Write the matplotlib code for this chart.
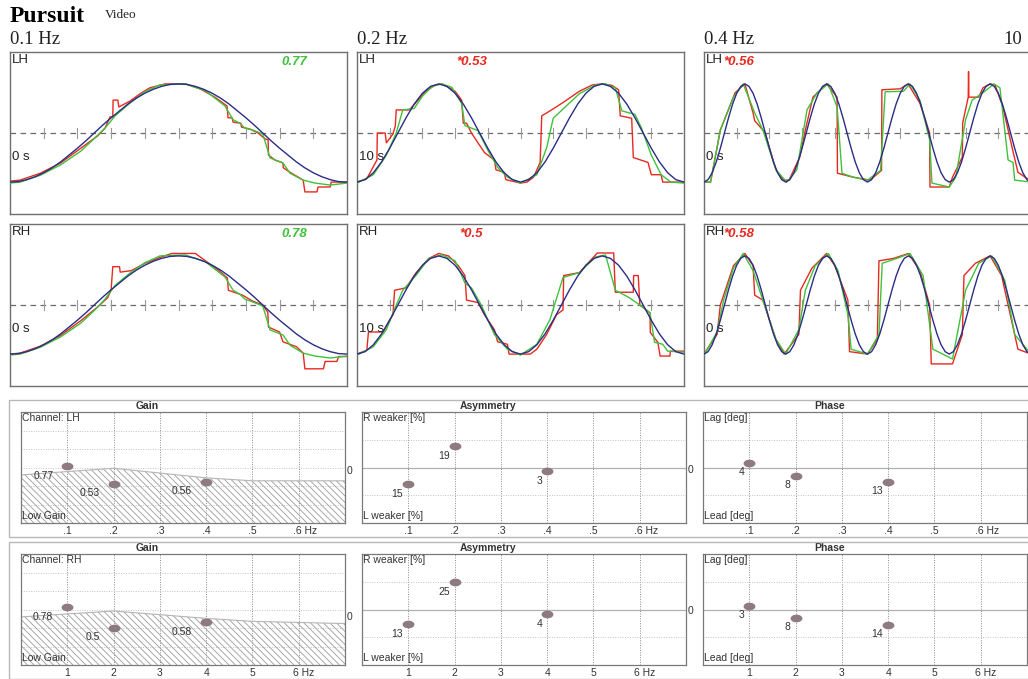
import numpy as np
import matplotlib
matplotlib.use('Agg')
import matplotlib.pyplot as plt
from matplotlib.path import Path
from matplotlib.patches import Rectangle, Polygon
from matplotlib.collections import LineCollection
from matplotlib.transforms import Affine2D

plt.rcParams['font.family'] = ['Liberation Sans', 'DejaVu Sans']

W, H = 1028, 679

# ---------------- data ----------------
freq_titles = ['0.1 Hz', '0.2 Hz', '0.4 Hz']
start_labels = ['0 s', '10 s', '0 s']
channels = ['LH', 'RH']
gain_text = [['0.77', '*0.53', '*0.56'], ['0.78', '*0.5', '*0.58']]
gain_ok = [[True, False, False], [True, False, False]]

# target position, read every 0.25 s (0.1 Hz, 0.2 Hz) and 0.125 s (0.4 Hz)
target_01 = [-1.0, -0.99, -0.95, -0.89, -0.81, -0.71, -0.59, -0.45, -0.31, -0.16, 0.0,
             0.16, 0.31, 0.45, 0.59, 0.71, 0.81, 0.89, 0.95, 0.99, 1.0,
             0.99, 0.95, 0.89, 0.81, 0.71, 0.59, 0.45, 0.31, 0.16, 0.0,
             -0.16, -0.31, -0.45, -0.59, -0.71, -0.81, -0.89, -0.95, -0.99, -1.0]
target_02 = [-1.0, -0.95, -0.81, -0.59, -0.31, 0.0, 0.31, 0.59, 0.81, 0.95, 1.0,
             0.95, 0.81, 0.59, 0.31, 0.0, -0.31, -0.59, -0.81, -0.95, -1.0,
             -0.95, -0.81, -0.59, -0.31, 0.0, 0.31, 0.59, 0.81, 0.95, 1.0,
             0.95, 0.81, 0.59, 0.31, 0.0, -0.31, -0.59, -0.81, -0.95, -1.0]
target_04 = [-1.0, -0.95, -0.81, -0.59, -0.31, 0.0, 0.31, 0.59, 0.81, 0.95, 1.0,
             0.95, 0.81, 0.59, 0.31, 0.0, -0.31, -0.59, -0.81, -0.95, -1.0,
             -0.95, -0.81, -0.59, -0.31, 0.0, 0.31, 0.59, 0.81, 0.95, 1.0,
             0.95, 0.81, 0.59, 0.31, 0.0, -0.31, -0.59, -0.81, -0.95, -1.0,
             -0.95, -0.81, -0.59, -0.31, 0.0, 0.31, 0.59, 0.81, 0.95, 1.0,
             0.95, 0.81, 0.59, 0.31, 0.0, -0.31, -0.59, -0.81, -0.95, -1.0,
             -0.95, -0.81, -0.59, -0.31, 0.0, 0.31, 0.59, 0.81, 0.95, 1.0,
             0.95, 0.81, 0.59, 0.31, 0.0, -0.31, -0.59, -0.81, -0.95, -1.0]
target_step = [0.25, 0.25, 0.125]

# eye traces (time s, position) -- red and green
red_lh_01 = [(0, -0.98), (0.3, -0.96), (0.9, -0.82), (1.5, -0.61), (2.1, -0.31), (2.6, -0.06),
             (2.82, 0.10), (2.97, 0.33), (3.05, 0.33), (3.06, 0.67), (3.2, 0.67), (3.23, 0.53),
             (3.56, 0.65), (3.86, 0.8), (4.15, 0.92), (4.6, 1.0), (5.2, 1.0), (5.64, 0.9),
             (6.08, 0.73), (6.44, 0.55), (6.47, 0.31), (6.59, 0.31), (6.62, 0.22), (6.85, 0.2),
             (6.87, 0.12), (7.12, 0.08), (7.36, 0.0), (7.57, -0.12), (7.66, -0.14), (7.67, -0.45),
             (7.86, -0.55), (8.1, -0.61), (8.11, -0.71), (8.31, -0.8), (8.7, -0.96),
             (8.75, -1.2), (9.11, -1.2), (9.14, -1.1), (9.5, -1.1), (9.53, -1.0), (10, -1.0)]
green_lh_01 = [(0, -1.02), (0.3, -1.0), (0.9, -0.86), (1.5, -0.65), (2.1, -0.37), (2.52, -0.1),
               (2.82, 0.1), (3.12, 0.35), (3.56, 0.61), (4.0, 0.84), (4.45, 0.98), (5.2, 1.0),
               (5.8, 0.86), (6.38, 0.55), (6.62, 0.27), (6.82, 0.2), (6.97, 0.1), (7.21, 0.06),
               (7.5, -0.02), (7.72, -0.51), (8.1, -0.61), (8.31, -0.82), (8.7, -0.96),
               (9.05, -1.02), (9.5, -1.06), (10, -1.02)]
red_lh_02 = [(0, -1.0), (0.3, -0.93), (0.61, -0.55), (0.62, 0.0), (0.86, 0.0), (0.9, -0.2),
             (1.1, -0.02), (1.17, 0.14), (1.2, 0.47), (1.6, 0.47), (1.8, 0.62), (2.1, 0.85),
             (2.4, 0.98), (2.6, 1.0), (2.8, 0.93), (3.0, 0.85), (3.2, 0.67), (3.25, 0.2),
             (3.35, 0.2), (3.5, 0.0), (3.9, -0.4), (4.2, -0.55), (4.25, -0.75), (4.5, -0.8),
             (4.55, -0.95), (5.0, -1.02), (5.2, -1.0), (5.4, -0.9), (5.6, -0.6), (5.65, 0.35),
             (5.9, 0.45), (6.3, 0.62), (6.8, 0.85), (7.2, 0.98), (7.5, 1.0), (7.8, 0.97),
             (8.0, 0.88), (8.05, 0.35), (8.4, 0.3), (8.45, -0.5), (8.9, -0.6), (9.0, -0.85),
             (9.3, -0.85), (9.35, -1.0), (10, -1.0)]
green_lh_02 = [(0, -1.02), (0.5, -0.85), (0.9, -0.45), (1.2, 0.0), (1.4, 0.47), (1.75, 0.5),
               (2.0, 0.75), (2.3, 0.95), (2.6, 1.0), (2.9, 0.93), (3.2, 0.6), (3.3, 0.15),
               (3.7, 0.05), (4.0, -0.35), (4.3, -0.7), (4.6, -0.9), (5.0, -1.02), (5.5, -0.85),
               (5.8, -0.3), (6.0, 0.3), (6.4, 0.55), (6.8, 0.8), (7.3, 0.98), (7.6, 1.0),
               (7.9, 0.92), (8.1, 0.45), (8.5, 0.38), (8.7, 0.1), (9.0, -0.45), (9.3, -0.85),
               (9.6, -1.0), (10, -1.02)]
red_lh_04 = [(0, -1.0), (0.2, -1.0), (0.5, 0.06), (0.95, 0.82), (1.25, 1.0), (1.5, 0.41),
             (1.55, 0.25), (1.8, 0.06), (1.87, 0.0), (2.2, -0.75), (2.43, -0.96), (2.6, -0.96),
             (2.93, -0.49), (3.1, 0.06), (3.33, 0.73), (3.75, 1.0), (4.07, 0.73), (4.08, -0.82),
             (4.56, -0.9), (5.08, -0.96), (5.43, -0.76), (5.44, 0.88), (6.0, 0.9), (6.24, 1.0),
             (6.6, 0.61), (6.9, 0.0), (6.91, -1.1), (7.5, -1.1), (7.6, -0.9), (7.9, -0.49),
             (7.91, 0.2), (8.08, 0.73), (8.09, 1.25), (8.1, 0.73), (8.4, 0.73), (8.53, 0.92),
             (8.75, 1.0), (8.9, 0.98), (9.14, 0.53), (9.42, -0.29), (9.6, -0.8), (10, -0.98)]
green_lh_04 = [(0, -1.0), (0.2, -1.0), (0.5, 0.06), (0.9, 0.73), (1.2, 1.0), (1.55, 0.41),
               (1.8, 0.06), (2.2, -0.75), (2.53, -1.0), (2.84, -0.75), (3.15, 0.47), (3.46, 0.82),
               (3.8, 1.0), (4.07, 0.53), (4.22, -0.82), (4.56, -0.9), (5.0, -0.96), (5.4, -0.76),
               (5.54, 0.84), (6.1, 0.85), (6.3, 1.0), (6.6, 0.67), (6.9, -0.14), (6.97, -1.02),
               (7.5, -1.1), (7.7, -0.9), (8.0, 0.27), (8.2, 0.67), (8.53, 0.82), (8.87, 1.0),
               (9.05, 0.92), (9.3, -0.55), (9.45, -0.6), (9.5, -0.96), (10, -1.0)]
red_rh_01 = [(0, -1.0), (0.3, -0.98), (0.9, -0.84), (1.5, -0.62), (2.1, -0.32), (2.6, -0.04),
             (2.9, 0.15), (3.0, 0.31), (3.05, 0.78), (3.25, 0.78), (3.27, 0.67), (3.6, 0.7),
             (4.0, 0.85), (4.5, 0.98), (4.8, 1.05), (5.5, 1.05), (5.8, 0.9), (6.2, 0.7),
             (6.45, 0.55), (6.48, 0.3), (6.9, 0.2), (7.2, 0.08), (7.5, 0.0), (7.65, -0.15),
             (7.67, -0.45), (8.0, -0.55), (8.1, -0.75), (8.5, -0.85), (8.7, -0.98),
             (8.75, -1.3), (9.3, -1.3), (9.35, -1.15), (9.7, -1.15), (9.75, -1.05), (10, -1.05)]
green_rh_01 = [(0, -1.02), (0.3, -1.0), (0.9, -0.86), (1.5, -0.65), (2.1, -0.37), (2.52, -0.1),
               (2.82, 0.12), (3.12, 0.4), (3.56, 0.65), (4.0, 0.86), (4.45, 1.0), (5.2, 1.02),
               (5.8, 0.88), (6.38, 0.57), (6.62, 0.3), (6.82, 0.22), (6.97, 0.12), (7.21, 0.06),
               (7.5, -0.02), (7.72, -0.51), (8.1, -0.61), (8.31, -0.82), (8.7, -0.98),
               (9.05, -1.04), (9.5, -1.08), (10, -1.04)]
red_rh_02 = [(0, -1.0), (0.3, -0.92), (0.35, -0.55), (0.8, -0.55), (1.0, -0.3), (1.1, -0.2),
             (1.15, 0.3), (1.5, 0.35), (1.8, 0.65), (2.2, 0.95), (2.5, 1.05), (2.8, 1.0),
             (3.1, 0.8), (3.3, 0.6), (3.35, 0.1), (3.7, 0.05), (3.9, -0.2), (4.2, -0.5),
             (4.3, -0.75), (4.6, -0.8), (4.65, -1.0), (5.3, -1.0), (5.5, -0.9), (5.8, -0.6),
             (6.1, -0.2), (6.3, -0.1), (6.32, 0.6), (6.8, 0.66), (7.35, 1.06), (7.85, 1.06),
             (7.9, 0.26), (8.45, 0.26), (8.46, 0.6), (8.6, 0.6), (8.65, 0.0), (8.96, -0.16),
             (8.97, -0.56), (9.2, -0.76), (9.27, -1.04), (9.57, -1.04), (9.58, -0.94), (10, -0.94)]
green_rh_02 = [(0, -1.02), (0.5, -0.85), (0.9, -0.5), (1.2, 0.0), (1.4, 0.3), (1.8, 0.6),
               (2.2, 0.95), (2.6, 1.02), (3.0, 0.9), (3.3, 0.45), (3.5, 0.35), (3.8, 0.0),
               (4.2, -0.6), (4.6, -0.9), (5.0, -1.02), (5.5, -0.8), (5.9, -0.3), (6.3, 0.56),
               (6.8, 0.66), (7.3, 0.98), (7.6, 1.02), (7.9, 0.3), (8.3, 0.16), (8.65, 0.0),
               (8.96, -0.16), (9.1, -0.76), (9.35, -0.8), (9.5, -0.94), (10, -0.96)]
red_rh_04 = [(0, -1.0), (0.4, -0.6), (0.5, 0.0), (0.9, 0.8), (1.25, 1.05), (1.5, 0.8),
             (1.55, 0.2), (1.8, 0.1), (2.2, -0.7), (2.45, -1.0), (2.9, -0.6), (2.95, 0.3),
             (3.3, 0.75), (3.75, 1.05), (4.0, 0.8), (4.4, 0.1), (4.45, -0.95), (5.0, -1.0),
             (5.3, -0.7), (5.35, 0.9), (5.8, 0.95), (6.25, 1.05), (6.6, 0.7), (6.9, 0.0),
             (6.95, -1.2), (7.6, -1.2), (7.9, -0.6), (7.95, 0.6), (8.3, 0.85), (8.75, 1.0),
             (9.1, 0.6), (9.4, -0.3), (9.6, -0.9), (10, -1.0)]
green_rh_04 = [(0, -1.02), (0.4, -0.55), (0.6, 0.1), (0.9, 0.75), (1.2, 1.05), (1.5, 0.7),
               (1.8, 0.1), (2.2, -0.7), (2.5, -1.0), (2.9, -0.5), (3.1, 0.3), (3.4, 0.8),
               (3.8, 1.05), (4.1, 0.7), (4.4, -0.2), (4.5, -0.9), (5.0, -1.0), (5.35, -0.6),
               (5.45, 0.85), (5.9, 0.95), (6.3, 1.05), (6.7, 0.6), (7.0, -0.9), (7.6, -1.1),
               (8.0, 0.3), (8.4, 0.85), (8.8, 1.0), (9.2, 0.5), (9.5, -0.6), (10, -1.0)]

red_traces = [[red_lh_01, red_lh_02, red_lh_04], [red_rh_01, red_rh_02, red_rh_04]]
green_traces = [[green_lh_01, green_lh_02, green_lh_04], [green_rh_01, green_rh_02, green_rh_04]]
targets = [target_01, target_02, target_04]

# analysis summary
freqs = [0.1, 0.2, 0.4]
axis_freqs = [0.1, 0.2, 0.3, 0.4, 0.5, 0.6]
gain_vals = [[0.77, 0.53, 0.56], [0.78, 0.5, 0.58]]
low_gain_f = [0.0, 0.2, 0.4, 0.5, 0.7]
low_gain_lim = [[0.65, 0.74, 0.61, 0.57, 0.57], [0.65, 0.73, 0.63, 0.59, 0.56]]
asym_vals = [[-15, 19, -3], [-13, 25, -4]]
phase_vals = [[4, -8, -13], [3, -8, -14]]
xlabels_rows = [['.1', '.2', '.3', '.4', '.5', '.6 Hz'], ['1', '2', '3', '4', '5', '6 Hz']]

# ---------------- figure ----------------
RED, GREEN, BLUE = '#e8291f', '#3fc23a', '#2b2d86'
DOT = '#8d7b80'

fig = plt.figure(figsize=(W / 100, H / 100), dpi=100)


def px_axes(x0, y0, x1, y1):
    return fig.add_axes([x0 / W, 1 - y1 / H, (x1 - x0) / W, (y1 - y0) / H])


def px_text(x, y, s, **kw):
    fig.text(x / W, 1 - y / H, s, **kw)


px_text(10, 16, 'Pursuit', fontsize=17, fontweight='bold', family='Liberation Serif', va='center')
px_text(105, 15, 'Video', fontsize=9.5, family='Liberation Serif', va='center', color='#222')

cols = [(10, 347), (357, 684), (704, 1031)]
rows = [(52, 214), (224, 386)]
for c, (x0, x1) in enumerate(cols):
    px_text(x0, 40, freq_titles[c], fontsize=13.5, family='Liberation Serif', va='center', color='#222')
px_text(1003, 40, '10', fontsize=13.5, family='Liberation Serif', va='center', color='#222')

gain_x = [0.845, 0.35, 0.108]
for r, (y0, y1) in enumerate(rows):
    for c, (x0, x1) in enumerate(cols):
        ax = px_axes(x0, y0, x1, y1)
        ax.set_xlim(0, 10)
        ax.set_ylim(-1.65, 1.65)
        ax.set_xticks([])
        ax.set_yticks([])
        for s in ax.spines.values():
            s.set_color('#707070')
            s.set_linewidth(1.0)
        ax.axhline(0, color='#6a6a6a', lw=0.9, ls=(0, (4.5, 3.5)), zorder=1)
        for tk in range(1, 10):
            ax.plot([tk, tk], [-0.1, 0.1], color='#9a9a9a', lw=0.8, zorder=1)
        rt, ry = zip(*red_traces[r][c])
        gt, gy = zip(*green_traces[r][c])
        ax.plot(rt, ry, color=RED, lw=1.0, zorder=2)
        ax.plot(gt, gy, color=GREEN, lw=1.0, zorder=3)
        tv = targets[c]
        tt = np.arange(len(tv)) * target_step[c]
        ax.plot(tt, tv, color=BLUE, lw=1.0, zorder=4)
        ax.text(0.006, 0.985, channels[r], transform=ax.transAxes, fontsize=9.5, va='top', ha='left', color='#222')
        ax.text(0.006, 0.35, start_labels[c], transform=ax.transAxes, fontsize=9.5, va='center', ha='left', color='#222')
        ax.text(gain_x[c], 0.94, gain_text[r][c], transform=ax.transAxes, fontsize=9.5,
                fontweight='bold', style='italic', va='center', ha='center',
                color=GREEN if gain_ok[r][c] else RED)

# ---------------- analysis panels ----------------
ell = Path.unit_circle().transformed(Affine2D().scale(1.0, 0.6))

arows = [(412, 523), (554, 665)]
acols = [(21, 345), (362, 686), (703, 1027)]
titles = ['Gain', 'Asymmetry', 'Phase']
top_labels = [['Channel: LH', 'R weaker [%]', 'Lag [deg]'], ['Channel: RH', 'R weaker [%]', 'Lag [deg]']]
bottom_labels = ['Low Gain', 'L weaker [%]', 'Lead [deg]']
zero_pos = [[0.47, 0.48], [0.43, 0.49]]

for r, (y0, y1) in enumerate(arows):
    fig.add_artist(Rectangle((9 / W, 1 - (y1 + 14) / H), 1040 / W, (y1 + 14 - (y0 - 12)) / H,
                             transform=fig.transFigure, fill=False, ec='#b8b8b8', lw=1.0))
    for c, (x0, x1) in enumerate(acols):
        ax = px_axes(x0, y0, x1, y1)
        ax.set_xlim(0, 0.7)
        if c == 0:
            ax.set_ylim(0, 1.5)
            hgrid = [0.25, 0.5, 0.75, 1.0, 1.25]
        else:
            ax.set_ylim(-50, 50)
            hgrid = [-25, 25]
            ax.axhline(0, color='#b0b0b0', lw=0.9, zorder=1)
        ax.set_xticks([])
        ax.set_yticks([])
        for s in ax.spines.values():
            s.set_color('#7a7a7a')
            s.set_linewidth(0.9)
        for f in axis_freqs:
            ax.axvline(f, color='#8a8a8a', lw=0.7, ls=(0, (1, 1.5)), zorder=1)
        for g in hgrid:
            ax.axhline(g, color='#c4c4c4', lw=0.7, ls=(0, (1, 1.5)), zorder=1)

        if c == 0:
            # hatched "low gain" zone: dense diagonal lines clipped to the zone
            zone = Polygon([(0, 0)] + list(zip(low_gain_f, low_gain_lim[r])) + [(0.7, 0)],
                           closed=True, facecolor='none', edgecolor='none')
            ax.add_patch(zone)
            dx_per_px = 0.7 / (x1 - x0)
            dy_per_px = 1.5 / (y1 - y0)
            run = 1.0 * dx_per_px / dy_per_px
            segs = [[(s0, 1.0), (s0 + run, 0.0)] for s0 in np.arange(-run, 0.72, 6.5 * dx_per_px)]
            lc = LineCollection(segs, colors='#9c9c9c', linewidths=0.6, zorder=1)
            ax.add_collection(lc)
            lc.set_clip_path(zone)
            ax.plot(low_gain_f, low_gain_lim[r], color='#b5b5b5', lw=0.8, zorder=1)
            vals = gain_vals[r]
            labels = [str(v) for v in vals]
            off = (-14, -9.5)
        elif c == 1:
            vals = asym_vals[r]
            labels = [str(abs(v)) for v in vals]
            off = (-5, -10)
        else:
            vals = phase_vals[r]
            labels = [str(abs(v)) for v in vals]
            off = (-5, -9)
        ax.plot(freqs, vals, ls='none', marker=ell, markersize=7.5, color=DOT, zorder=3)
        for f, v, lab in zip(freqs, vals, labels):
            ax.annotate(lab, (f, v), xytext=off, textcoords='offset pixels', fontsize=7.5,
                        ha='right', va='center', color='#333')

        ax.text(0.004, 0.99, top_labels[r][c], transform=ax.transAxes, fontsize=7.5, va='top', ha='left', color='#333')
        ax.text(0.004, 0.015, bottom_labels[c], transform=ax.transAxes, fontsize=7.5, va='bottom', ha='left', color='#333')
        ax.text(0.39, 1.005, titles[c], transform=ax.transAxes, fontsize=7.5, fontweight='bold',
                va='bottom', ha='center', color='#333')
        for f, lab in zip(axis_freqs, xlabels_rows[r]):
            if lab.endswith('Hz'):
                ax.text(f - 0.012, -0.03, lab, transform=ax.get_xaxis_transform(), fontsize=7.5,
                        va='top', ha='left', color='#333')
            else:
                ax.text(f, -0.03, lab, transform=ax.get_xaxis_transform(), fontsize=7.5,
                        va='top', ha='center', color='#333')
        if c < 2:
            ax.text(1.005, zero_pos[r][c], '0', transform=ax.transAxes,
                    fontsize=7.5, va='center', ha='left', color='#333')

fig.savefig('out.png', dpi=100, facecolor='white')
